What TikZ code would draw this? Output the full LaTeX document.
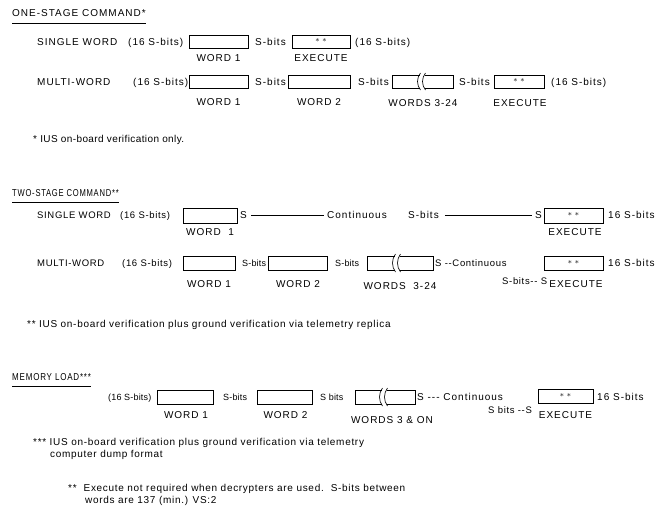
\documentclass[tikz,border=0pt]{standalone}
\usepackage{fontspec}
\usepackage{graphicx}
\newfontfamily\capsf{Liberation Sans}[LetterSpace=10]
\newfontfamily\midf{Liberation Sans}[LetterSpace=7]
\newfontfamily\smf{Liberation Sans}[LetterSpace=2]
\newfontfamily\notef{Liberation Sans}[LetterSpace=7]
\newfontfamily\noteaf{Liberation Sans}[LetterSpace=4]
\tikzset{
  txt/.style={anchor=west, inner sep=0pt, font=\capsf\fontsize{10}{12}\selectfont, text height=7.2pt, text depth=0pt},
  txtm/.style={txt, font=\midf\fontsize{9.5}{12}\selectfont, text height=6.8pt},
  txts/.style={txt, font=\smf\fontsize{9}{12}\selectfont, text height=6.5pt},
  lbl/.style={txt, anchor=center},
  note/.style={anchor=west, inner sep=0pt, font=\notef\fontsize{10}{12}\selectfont, text height=7.2pt, text depth=0pt},
  notea/.style={note, font=\noteaf\fontsize{10}{12}\selectfont},
  wbox/.style={draw, line width=0.65pt, inner sep=0pt},
  brk/.style={line width=0.65pt},
  star/.style={font=\fontsize{8}{8}\selectfont},
  uline/.style={line width=0.6pt},
  conn/.style={line width=0.5pt},
}
% broken box: name, x0, x1, xb, ytop, ybot
\newcommand\BrokenBox[6]{%
  \coordinate (#1) at ({(#2+#3)/2},{(#5+#6)/2});
  \draw[brk] ({#4+0.5},#5) -- (#2,#5) -- (#2,#6) -- ({#4+0.5},#6);
  \draw[brk] ({#4+5.5},#5) -- (#3,#5) -- (#3,#6) -- ({#4+5.5},#6);
  \draw[brk] ({#4+1.5},{#5-2}) .. controls ({#4-2.5},{#5+3}) and ({#4-2.5},{#6-3}) .. ({#4+1.5},{#6+2});
  \draw[brk] ({#4+6.5},{#5-2}) .. controls ({#4+2.5},{#5+3}) and ({#4+2.5},{#6-3}) .. ({#4+6.5},{#6+2});
}
\begin{document}
\begin{tikzpicture}[x=1pt,y=-1pt]
\useasboundingbox (0,0) rectangle (656,517);

% ================= ONE-STAGE COMMAND =================
\node[txt] (h1) at (12,13) {ONE-STAGE COMMAND*};
\draw[uline] ([yshift=-6pt]h1.south west) -- ([yshift=-6pt]h1.south east);

% row 1
\node[txt] (a1) at (37,42) {SINGLE WORD};
\node[txt] (a2) at (128,42) {(16 S-bits)};
\node[wbox, minimum width=59pt, minimum height=13pt] (a3) at (218.5,41.5) {};
\node[lbl] (a3l) at (218.5,58) {WORD 1};
\node[txt] (a4) at (255,42) {S-bits};
\node[wbox, star, minimum width=58pt, minimum height=13pt] (a5) at (321,41.5) {* *};
\node[lbl] (a5l) at (321,58) {EXECUTE};
\node[txt] (a6) at (355,42) {(16 S-bits)};

% row 2
\node[txt] (b1) at (37,82) {MULTI-WORD};
\node[txt] (b2) at (133,82) {(16 S-bits)};
\node[wbox, minimum width=59pt, minimum height=13pt] (b3) at (218.5,81.5) {};
\node[lbl] (b3l) at (218.5,102) {WORD 1};
\node[txt] (b4) at (255,82) {S-bits};
\node[wbox, minimum width=62pt, minimum height=13pt] (b5) at (319,81.5) {};
\node[lbl] (b5l) at (319,102) {WORD 2};
\node[txt] (b6) at (358,82) {S-bits};
\BrokenBox{b7}{392}{453}{419}{75}{88}
\node[lbl] (b7l) at (423,103) {WORDS 3-24};
\node[txt] (b8) at (459,82) {S-bits};
\node[wbox, star, minimum width=50pt, minimum height=13pt] (b9) at (519,81.5) {* *};
\node[lbl] (b9l) at (520,103) {EXECUTE};
\node[txt] (b10) at (551,82) {(16 S-bits)};

\node[notea] (n1) at (33,139) {* IUS on-board verification only.};

% ================= TWO-STAGE COMMAND =================
\node[txt, anchor=west] (h2) at (12,193) {\scalebox{0.76}[1]{TWO-STAGE COMMAND**}};
\draw[uline] ([yshift=-5pt]h2.south west) -- ([yshift=-5pt]h2.south east);

% row 1
\node[txtm] (c1) at (37,215) {SINGLE WORD};
\node[txtm] (c2) at (120,215) {(16 S-bits)};
\node[wbox, minimum width=54pt, minimum height=15pt] (c3) at (210,215.5) {};
\node[lbl] (c3l) at (210,232) {WORD\ \ 1};
\node[txt] (c4) at (240,215) {S};
\node[txt] (c5) at (327,215) {Continuous};
\node[txt] (c6) at (408,215) {S-bits};
\node[txt] (c7) at (535,215) {S};
\draw[conn] ([xshift=4pt]c4.east) -- ([xshift=-3pt]c5.west);
\draw[conn] ([xshift=6pt]c6.east) -- ([xshift=-3pt]c7.west);
\node[wbox, star, minimum width=59pt, minimum height=15pt] (c8) at (573.5,215.5) {* *};
\node[lbl] (c8l) at (575,232) {EXECUTE};
\node[txt] (c9) at (608,215) {16 S-bits};

% row 2
\node[txtm] (d1) at (37,263) {MULTI-WORD};
\node[txtm] (d2) at (122,263) {(16 S-bits)};
\node[wbox, minimum width=52pt, minimum height=14pt] (d3) at (209,263) {};
\node[lbl] (d3l) at (209,284) {WORD 1};
\node[txts] (d4) at (242,263) {S-bits};
\node[wbox, minimum width=59pt, minimum height=14pt] (d5) at (297.5,263) {};
\node[lbl] (d5l) at (298,284) {WORD 2};
\node[txts] (d6) at (335,263) {S-bits};
\BrokenBox{d7}{367}{433}{394}{256}{270}
\node[lbl] (d7l) at (400,286) {WORDS\ \ 3-24};
\node[txtm] (d8) at (435,263) {S --Continuous};
\node[txtm] (d9) at (502,281) {S-bits-- S};
\node[wbox, star, minimum width=59pt, minimum height=14pt] (d10) at (573.5,263) {* *};
\node[lbl] (d10l) at (576,284) {EXECUTE};
\node[txt] (d11) at (608,263) {16 S-bits};

\node[note] (n2) at (27,324) {** IUS on-board verification plus ground verification via telemetry replica};

% ================= MEMORY LOAD =================
\node[txt, anchor=west] (h3) at (12,377) {\scalebox{0.8}[1]{MEMORY LOAD***}};
\draw[uline] ([yshift=-5pt]h3.south west) -- ([yshift=-5pt]h3.south east);

\node[txts] (e1) at (108,397) {(16 S-bits)};
\node[wbox, minimum width=56pt, minimum height=14pt] (e2) at (185,397) {};
\node[lbl] (e2l) at (186,415) {WORD 1};
\node[txts] (e3) at (223,397) {S-bits};
\node[wbox, minimum width=55pt, minimum height=14pt] (e4) at (284.5,397) {};
\node[lbl] (e4l) at (285.5,415) {WORD 2};
\node[txts] (e5) at (320,397) {S bits};
\BrokenBox{e6}{355}{415}{381}{390}{404}
\node[lbl] (e6l) at (392,420) {WORDS 3 \& ON};
\node[txt] (e7) at (417,397) {S --- Continuous};
\node[txtm] (e8) at (488,410) {S bits --S};
\node[wbox, star, minimum width=55pt, minimum height=14pt] (e9) at (565.5,396) {* *};
\node[lbl] (e9l) at (565.5,415) {EXECUTE};
\node[txt] (e10) at (597,397) {16 S-bits};

\node[note] (n3a) at (33,442) {*** IUS on-board verification plus ground verification via telemetry};
\node[note] (n3b) at (50,454) {computer dump format};
\node[note] (n4a) at (68,488) {** \ Execute not required when decrypters are used.\ \ S-bits between};
\node[note] (n4b) at (85,500) {words are 137 (min.) VS:2};
\end{tikzpicture}
\end{document}
